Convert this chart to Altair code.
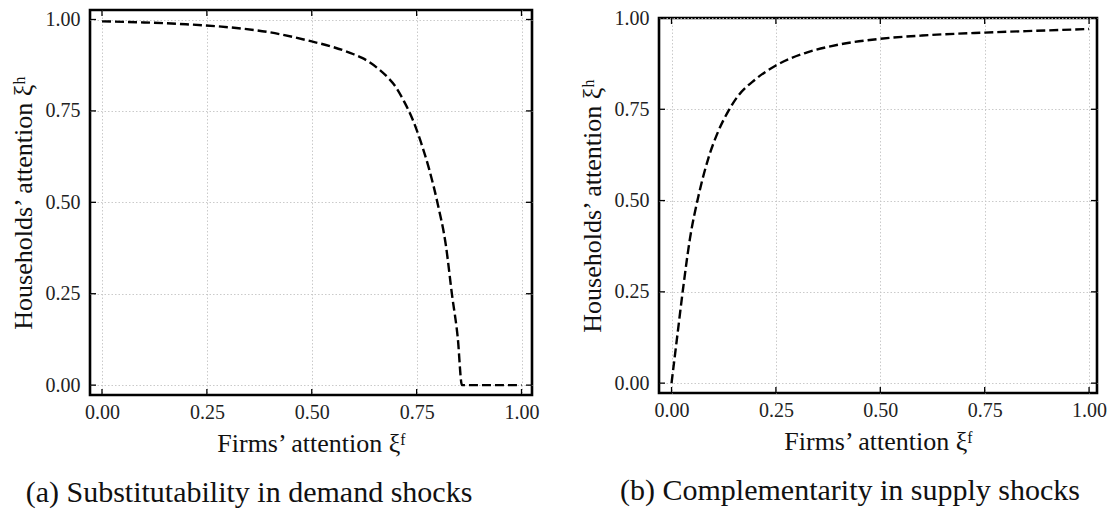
import altair as alt
import pandas as pd

# ---- data ----
left_x = [0.0, 0.1, 0.2, 0.3, 0.4, 0.5, 0.55, 0.6, 0.62, 0.66, 0.68, 0.7, 0.72, 0.74, 0.76, 0.78, 0.8, 0.82, 0.834, 0.848, 0.858, 0.9, 0.95, 1.0]
left_y = [0.995, 0.992, 0.987, 0.979, 0.965, 0.94, 0.925, 0.905, 0.895, 0.864, 0.843, 0.816, 0.776, 0.728, 0.665, 0.59, 0.497, 0.38, 0.25, 0.13, 0.0, 0.0, 0.0, 0.0]

right_x = [0.0, 0.0144, 0.028, 0.044, 0.064, 0.088, 0.112, 0.136, 0.159, 0.2, 0.25, 0.32, 0.4, 0.5, 0.6, 0.75, 0.9, 1.0]
right_y = [0.0, 0.135, 0.262, 0.395, 0.51, 0.615, 0.69, 0.745, 0.786, 0.831, 0.870, 0.904, 0.927, 0.943, 0.952, 0.960, 0.966, 0.970]

tick_values = [0.0, 0.25, 0.5, 0.75, 1.0]
x_title = "Firms’ attention ξᶠ"
y_title = "Households’ attention ξʰ"
caption_a = "(a) Substitutability in demand shocks"
caption_b = "(b) Complementarity in supply shocks"

FONT = "Liberation Serif"
TICK = 6


def panel(xs, ys, xdom, ydom, w, h, caption, cap_dx):
    df = pd.DataFrame({"x": xs, "y": ys})
    ticks = pd.DataFrame({"v": tick_values})
    xs_ = alt.Scale(domain=xdom, nice=False, zero=False)
    ys_ = alt.Scale(domain=ydom, nice=False, zero=False)
    common = dict(values=tick_values, format=".2f", ticks=False, domain=False,
                  grid=True, gridDash=[1.5, 2], gridColor="#c4c4c4", gridWidth=0.9,
                  labelFont=FONT, labelFontSize=20, labelColor="#222",
                  titleFont=FONT, titleFontSize=26, titleFontWeight="normal", titleColor="#111")
    xax = alt.Axis(title=x_title, labelPadding=7, titlePadding=8, **common)
    yax = alt.Axis(title=y_title, labelPadding=10, titlePadding=9, **common)
    line = alt.Chart(df).mark_line(color="black", strokeWidth=2.4, strokeDash=[9, 4],
                                   interpolate="monotone", clip=True).encode(
        x=alt.X("x:Q", scale=xs_, axis=xax),
        y=alt.Y("y:Q", scale=ys_, axis=yax),
    )
    base = alt.Chart(ticks).mark_rule(color="black", strokeWidth=1.3)
    bottom = base.encode(x=alt.X("v:Q", scale=xs_), y=alt.value(h), y2=alt.value(h - TICK))
    top = base.encode(x=alt.X("v:Q", scale=xs_), y=alt.value(0), y2=alt.value(TICK))
    left = base.encode(y=alt.Y("v:Q", scale=ys_), x=alt.value(0), x2=alt.value(TICK))
    right = base.encode(y=alt.Y("v:Q", scale=ys_), x=alt.value(w), x2=alt.value(w - TICK))
    return alt.layer(line, bottom, top, left, right).properties(
        width=w, height=h,
        title=alt.TitleParams(caption, orient="bottom", font=FONT, fontSize=30,
                              fontWeight="normal", color="#111", offset=22, anchor="middle",
                              dx=cap_dx),
    )


pa = panel(left_x, left_y, [-0.0286, 1.025], [-0.027, 1.026], 442, 385, caption_a, -62)
pb = panel(right_x, right_y, [-0.030, 1.019], [-0.027, 1.0], 438, 375, caption_b, -28)

spacer = alt.Chart(pd.DataFrame({"a": [0]})).mark_rule(opacity=0).encode(
    x=alt.value(0), y=alt.value(0), y2=alt.value(1)
).properties(width=1, height=1, view=alt.ViewBackground(stroke=None))

right_col = alt.vconcat(spacer, pb, spacing=7, bounds="flush")

chart = alt.hconcat(pa, right_col, spacing=127, bounds="flush").properties(
    padding={"left": 8, "top": 6, "right": 5, "bottom": 5},
    background="white",
).configure_view(stroke="black", strokeWidth=2.6)

chart.save("out.html", embed_options={"renderer": "svg", "actions": False})
